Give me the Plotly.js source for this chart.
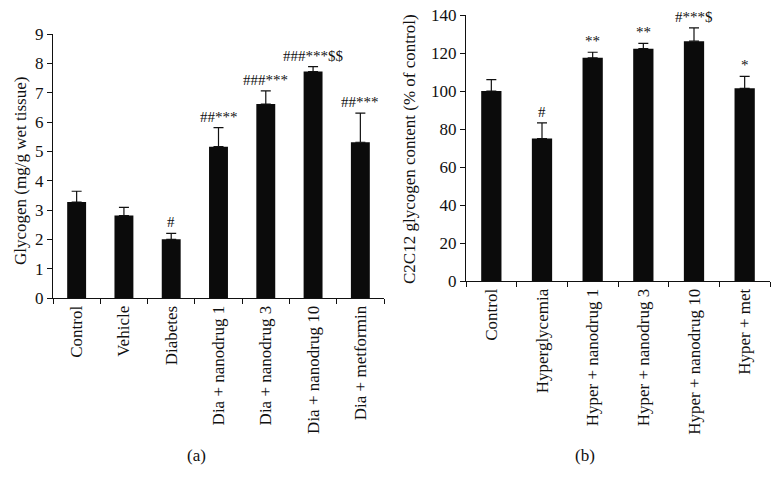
<!DOCTYPE html>
<html>
<head>
<meta charset="utf-8">
<script src="https://cdn.plot.ly/plotly-3.0.1.min.js"></script>
<style>
  html, body { margin: 0; padding: 0; background: #fff; }
  #chart { width: 781px; height: 489px; }
</style>
</head>
<body>
<div id="chart"></div>
<script>
// panel (a): rat muscle glycogen
const catsA = ['Control', 'Vehicle', 'Diabetes', 'Dia + nanodrug 1', 'Dia + nanodrug 3', 'Dia + nanodrug 10', 'Dia + metformin'];
const valsA = [3.27, 2.81, 2.0, 5.16, 6.61, 7.72, 5.31];
const errA = [0.37, 0.28, 0.2, 0.65, 0.45, 0.17, 0.99];
const marksA = ['', '', '#', '##***', '###***', '###***$$', '##***'];

// panel (b): C2C12 cells
const catsB = ['Control', 'Hyperglycemia', 'Hyper + nanodrug 1', 'Hyper + nanodrug 3', 'Hyper + nanodrug 10', 'Hyper + met'];
const valsB = [100, 75, 117.5, 122.3, 126.2, 101.4];
const errB = [6, 8.2, 2.9, 2.8, 7, 6.3];
const marksB = ['', '#', '**', '**', '#***$', '*'];

const W = 781, H = 489;
const ink = '#111';
const font = 'Liberation Serif, Times New Roman, serif';

function barTrace(cats, vals, errs, xa, ya) {
  return {
    type: 'bar', x: cats, y: vals, xaxis: xa, yaxis: ya,
    width: 0.4,
    marker: { color: '#0b0b0b', line: { width: 0 } },
    error_y: { type: 'data', array: errs, arrayminus: errs.map(() => 0), color: ink, thickness: 1.2, width: 5 },
    hoverinfo: 'none'
  };
}

function marks(cats, vals, errs, labels, xa, ya) {
  const out = [];
  labels.forEach((t, i) => {
    if (!t) return;
    out.push({
      xref: xa, yref: ya, x: cats[i], y: vals[i] + errs[i],
      text: t, showarrow: false, yanchor: 'bottom', yshift: 1,
      font: { family: font, size: 15, color: ink }
    });
  });
  return out;
}

const xBase = {
  type: 'category', showline: true, linecolor: ink, linewidth: 1,
  ticks: 'outside', tickson: 'boundaries', ticklen: 5, tickcolor: ink,
  tickangle: -90, showgrid: false, zeroline: false,
  tickfont: { family: font, size: 17, color: ink }
};
const yBase = {
  showline: true, linecolor: ink, linewidth: 1, ticks: 'outside', ticklen: 5,
  tickcolor: ink, showgrid: false, zeroline: false,
  tickfont: { family: font, size: 17, color: ink }
};

function paperText(t, px, py, angle) {
  return { xref: 'paper', yref: 'paper', x: px / W, y: 1 - py / H, xanchor: 'center', yanchor: 'middle',
    textangle: angle, showarrow: false, text: t, font: { family: font, size: 17, color: ink } };
}

const layout = {
  width: W, height: H,
  margin: { l: 0, r: 0, t: 0, b: 0, pad: 0 },
  paper_bgcolor: '#fff', plot_bgcolor: 'rgba(0,0,0,0)',
  showlegend: false,
  xaxis: Object.assign({}, xBase, { domain: [53 / W, 384 / W], anchor: 'y' }),
  yaxis: Object.assign({}, yBase, { domain: [1 - 298 / H, 1 - 34 / H], range: [0, 9], dtick: 1, anchor: 'x' }),
  xaxis2: Object.assign({}, xBase, { domain: [466 / W, 770 / W], anchor: 'y2' }),
  yaxis2: Object.assign({}, yBase, { domain: [1 - 281 / H, 1 - 15 / H], range: [0, 140], dtick: 20, anchor: 'x2' }),
  annotations: [
    ...marks(catsA, valsA, errA, marksA, 'x', 'y'),
    ...marks(catsB, valsB, errB, marksB, 'x2', 'y2'),
    paperText('Glycogen (mg/g wet tissue)', 20, 171, -90),
    paperText('C2C12 glycogen content (% of control)', 410, 149, -90),
    paperText('(a)', 196, 455, 0),
    paperText('(b)', 585, 455, 0)
  ]
};

Plotly.newPlot('chart', [
  barTrace(catsA, valsA, errA, 'x', 'y'),
  barTrace(catsB, valsB, errB, 'x2', 'y2')
], layout, { staticPlot: true });
</script>
</body>
</html>
